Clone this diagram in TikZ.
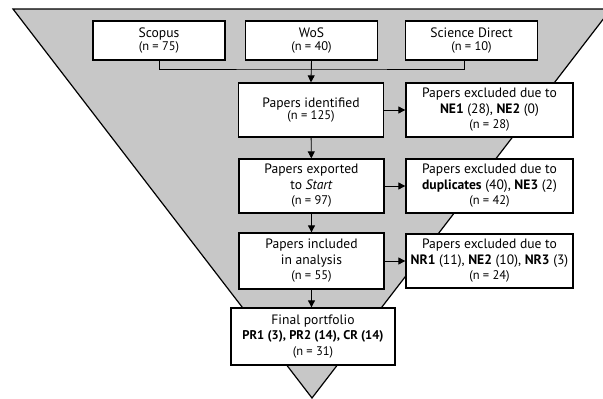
\documentclass[tikz,border=0pt]{standalone}
\usepackage{fontspec}
\setmainfont{PT Sans}
\usetikzlibrary{arrows.meta}
\newcommand{\ncount}[1]{{\fontsize{12.5}{14}\selectfont (n = #1)}}
\begin{document}
\begin{tikzpicture}[x=1pt,y=-1pt,
  box/.style={draw,line width=1.3pt,fill=white,align=center,inner sep=0pt,
    minimum height=54pt,font=\fontsize{13.6}{15.5}\selectfont},
  srcbox/.style={box,minimum width=132pt,minimum height=39pt,font=\fontsize{13.6}{13.5}\selectfont},
  midbox/.style={box,minimum width=145pt},
  exbox/.style={box,minimum width=167pt},
  arr/.style={-{Triangle[length=7pt,width=7pt]},line width=0.9pt}]
\useasboundingbox (0,0) rectangle (603,399);
% funnel
\fill[black!22] (13,9) -- (611,9) -- (312,398) -- cycle;
\draw[line width=1.2pt] (13,9) -- (611,9) -- (312,398) -- cycle;
% databases
\node[srcbox] (scopus) at (159,40.5) {Scopus\\\ncount{75}};
\node[srcbox] (wos) at (311.5,40.5) {WoS\\\ncount{40}};
\node[srcbox] (scidir) at (471.5,40.5) {Science Direct\\\ncount{10}};
% main flow
\node[midbox] (ident) at (311,110) {Papers identified\\[-3pt]\ncount{125}};
\node[midbox] (export) at (311.5,186) {Papers exported\\to \emph{Start}\\\ncount{97}};
\node[midbox,minimum height=56pt] (incl) at (311.5,261) {Papers included\\in analysis\\\ncount{55}};
\node[box,minimum width=164pt,minimum height=57pt] (final) at (313,336.5)
  {Final portfolio\\{\fontsize{12.6}{14}\selectfont\bfseries PR1 (3), PR2 (14), CR (14)}\\\ncount{31}};
% exclusions
\node[exbox] (exA) at (489.5,110) {Papers excluded due to\\\textbf{NE1} (28), \textbf{NE2} (0)\\\ncount{28}};
\node[exbox] (exB) at (489.5,186) {Papers excluded due to\\\textbf{duplicates} (40), \textbf{NE3} (2)\\\ncount{42}};
\node[exbox] (exC) at (489.5,261) {Papers excluded due to\\\textbf{NR1} (11), \textbf{NE2} (10), \textbf{NR3} (3)\\\ncount{24}};
% connectors
\coordinate (merge) at (311.5,69);
\draw[line width=0.9pt] (scopus.south) |- (merge) -| ([xshift=-7.5pt]scidir.south);
\draw[arr] (wos.south) -- (ident.north);
\draw[arr] (ident) -- (export);
\draw[arr] (export) -- (incl);
\draw[arr] (incl.south) -- (incl.south |- final.north);
\foreach \a/\b in {ident/exA,export/exB,incl/exC}
  \draw[arr] (\a.east) -- (\b.west);
\end{tikzpicture}
\end{document}
